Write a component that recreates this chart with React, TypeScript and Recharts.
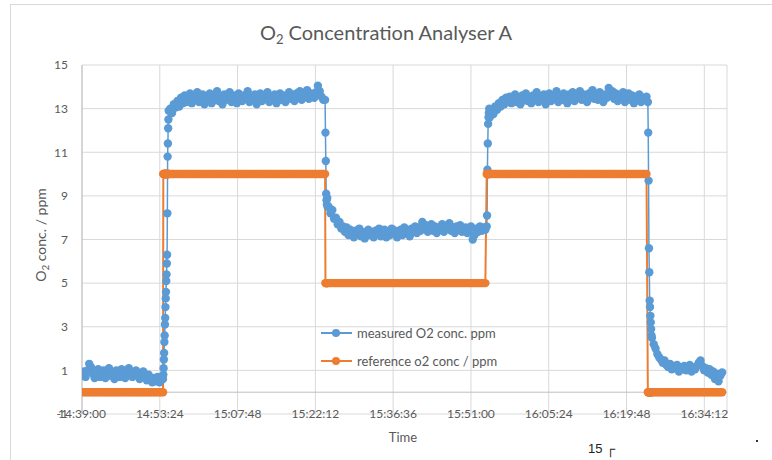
import { CartesianGrid, Legend, Line, LineChart, ReferenceLine, XAxis, YAxis } from "recharts";

const blue = "#5b9bd5";
const orange = "#ed7d31";
const grey = "#595959";
const font = "Lato, 'Open Sans', sans-serif";

// time axis
const timeTicks = ["14:39:00", "14:53:24", "15:07:48", "15:22:12", "15:36:36", "15:51:00", "16:05:24", "16:19:48", "16:34:12"];
const timeEnd = "16:38:24";
const concTicks = [-1, 1, 3, 5, 7, 9, 11, 13, 15];

// measured O2 (ppm), logged in runs: each run has a start time and seconds between samples
const baselineA = [
  0.75, 0.95, 0.7, 1.0, 1.3, 1.15, 0.85, 0.65, 0.9, 1.05,
  0.7, 0.8, 1.0, 0.65, 0.9, 1.1, 0.75, 0.85, 0.6, 1.0,
  0.9, 0.7, 1.05, 0.8, 0.65, 0.95, 1.1, 0.8, 0.7, 0.9,
  1.0, 0.75, 0.6, 0.85, 0.95, 0.7, 0.55, 0.8, 0.6, 0.45,
  0.65, 0.5, 0.7, 0.45, 0.55,
];
const riseA = [0.6, 0.8, 1.1, 1.5, 1.8, 2.3, 2.6, 3.1, 3.4, 3.9, 4.3, 4.6, 5.1, 5.4, 5.9, 6.3, 8.2, 10.8, 11.4, 12.1, 12.5, 12.9];
const highA = [
  13.0, 12.8, 13.2, 13.05, 13.35, 13.1, 13.5, 13.25, 13.6, 13.3,
  13.45, 13.7, 13.25, 13.55, 13.4, 13.75, 13.3, 13.5, 13.65, 13.2,
  13.55, 13.4, 13.7, 13.25, 13.6, 13.45, 13.8, 13.35, 13.5, 13.2,
  13.65, 13.4, 13.55, 13.75, 13.3, 13.5, 13.6, 13.25, 13.7, 13.45,
  13.35, 13.6, 13.5, 13.8, 13.3, 13.55, 13.4, 13.65, 13.2, 13.5,
  13.7, 13.35, 13.6, 13.45, 13.75, 13.3, 13.55, 13.4, 13.65, 13.25,
  13.5, 13.7, 13.4, 13.6, 13.3, 13.55, 13.75, 13.45, 13.6, 13.35,
  13.7, 13.5, 13.8, 13.4, 13.65, 13.55, 13.85, 13.45, 13.7, 13.6,
  13.5, 13.75, 14.05, 13.8, 13.55, 13.4,
];
const fallA = [13.4, 11.9, 10.6, 9.1, 8.8, 8.6, 8.9, 8.5];
const mid = [
  8.5, 8.2, 8.35, 7.95, 8.0, 7.7, 7.8, 7.5, 7.6, 7.35,
  7.55, 7.2, 7.45, 7.3, 7.1, 7.4, 7.25, 7.5, 7.15, 7.35,
  7.05, 7.3, 7.45, 7.2, 7.35, 7.1, 7.4, 7.25, 7.5, 7.15,
  7.3, 7.45, 7.1, 7.35, 7.2, 7.5, 7.25, 7.4, 7.1, 7.3,
  7.45, 7.2, 7.55, 7.3, 7.4, 7.15, 7.5, 7.35, 7.6, 7.3,
  7.55, 7.4, 7.8, 7.5, 7.65, 7.35, 7.55, 7.7, 7.4, 7.6,
  7.3, 7.55, 7.45, 7.7, 7.35, 7.6, 7.5, 7.75, 7.4, 7.55,
  7.3, 7.6, 7.45, 7.65, 7.35, 7.5, 7.55, 7.3, 7.45, 7.6,
  7.0, 7.2, 7.5, 7.35, 7.6, 7.4, 7.55, 7.45,
];
const riseB = [7.6, 8.1, 10.2, 11.4, 12.3, 12.6, 12.8, 13.0];
const highB = [
  12.6, 12.9, 12.75, 13.1, 12.95, 13.25, 13.1, 13.4, 13.2, 13.5,
  13.3, 13.55, 13.25, 13.45, 13.65, 13.3, 13.5, 13.2, 13.6, 13.4,
  13.7, 13.35, 13.5, 13.25, 13.6, 13.45, 13.75, 13.3, 13.55, 13.4,
  13.65, 13.2, 13.5, 13.7, 13.35, 13.6, 13.45, 13.8, 13.3, 13.55,
  13.4, 13.7, 13.5, 13.25, 13.65, 13.45, 13.75, 13.35, 13.6, 13.5,
  13.8, 13.4, 13.65, 13.55, 13.3, 13.7, 13.5, 13.85, 13.45, 13.6,
  13.4, 13.75, 13.55, 13.3, 13.65, 13.5, 13.95, 13.6, 13.8, 13.45,
  13.7, 13.35, 13.6, 13.5, 13.75, 13.3, 13.55, 13.7, 13.4, 13.6,
  13.25, 13.55, 13.45, 13.65, 13.3, 13.5, 13.4, 13.55,
];
const fallB = [13.3, 11.9, 9.7, 6.6, 5.5, 4.2, 3.9, 3.5, 3.2, 2.9, 2.6];
const baselineB = [
  2.5, 2.2, 2.0, 1.75, 1.6, 1.5, 1.35, 1.45, 1.25, 1.15,
  1.3, 1.05, 1.2, 1.1, 1.25, 0.95, 1.15, 1.05, 1.2, 1.0,
  1.1, 1.25, 0.95, 1.15, 1.05, 1.2, 1.35, 1.45, 1.2, 1.0,
  1.1, 0.9, 1.05, 0.8, 0.95, 0.6, 0.85, 0.5, 0.75, 0.9,
];

const runs = [
  { start: "14:39:00", step: 20, values: baselineA },
  { start: "14:54:00", step: 3, values: riseA },
  { start: "14:55:20", step: 20, values: highA },
  { start: "15:24:00", step: 4, values: fallA },
  { start: "15:24:40", step: 20, values: mid },
  { start: "15:53:55", step: 4, values: riseB },
  { start: "15:54:30", step: 20, values: highB },
  { start: "16:23:45", step: 4, values: fallB },
  { start: "16:24:30", step: 20, values: baselineB },
];

// reference O2 set point (ppm) and when it was switched
const refSwitchTimes = ["14:54:02", "15:24:01", "15:53:53", "16:23:44"];
const refLevels = [0, 10, 5, 10, 0];

const toSec = (s: string) => {
  const [h, m, sec] = s.split(":").map(Number);
  return h * 3600 + m * 60 + sec;
};
const pad = (n: number) => String(n).padStart(2, "0");
const fmtTime = (v: number) => `${pad(Math.floor(v / 3600))}:${pad(Math.floor((v % 3600) / 60))}:${pad(v % 60)}`;

const switchSecs = refSwitchTimes.map(toSec);
const rows = runs.flatMap((run) =>
  run.values.map((v, i) => {
    const t = toSec(run.start) + i * run.step;
    const phase = switchSecs.filter((s) => s <= t).length;
    return { t, measured: v, reference: refLevels[phase] };
  })
);

const XTick = (p: any) => (
  <text x={p.x} y={p.y + 4} textAnchor="middle" fill={grey} fontSize={12} fontFamily={font}>
    {fmtTime(p.payload.value)}
  </text>
);

function LegendBox({ payload }: any) {
  return (
    <div style={{ fontFamily: font, fontSize: 13, color: grey }}>
      {(payload || []).map((e: any) => (
        <div key={e.value} style={{ display: "flex", alignItems: "center", height: 28, whiteSpace: "nowrap" }}>
          <svg width={31} height={10} style={{ marginRight: 5 }}>
            <line x1={0} y1={5} x2={31} y2={5} stroke={e.color} strokeWidth={2} />
            <circle cx={15} cy={5} r={4} fill={e.color} />
          </svg>
          {e.value}
        </div>
      ))}
    </div>
  );
}

export default function App() {
  const dot = (c: string) => ({ r: 4.2, fill: c, stroke: c, strokeWidth: 0 });
  return (
    <div style={{ position: "absolute", left: 0, top: 0, width: 772, height: 460, background: "#fff", overflow: "hidden", fontFamily: font }}>
      <div style={{ position: "absolute", left: 10, top: 4, width: 770, height: 470, borderLeft: "1px solid #d9d9d9", borderTop: "1px solid #d9d9d9" }} />
      <LineChart width={772} height={460} data={rows} margin={{ top: 65, right: 45, bottom: 16, left: 0 }}>
        <CartesianGrid stroke="#d9d9d9" />
        <XAxis dataKey="t" type="number" domain={[toSec(timeTicks[0]), toSec(timeEnd)]} ticks={timeTicks.map(toSec)} interval={0} allowDataOverflow axisLine={false} tickLine={false} tickSize={0} tickMargin={0} height={30} tick={XTick} />
        <YAxis type="number" domain={[-1, 15]} ticks={concTicks} interval={0} width={82} axisLine={{ stroke: "#bfbfbf" }} tickLine={false} tickSize={0} tickMargin={14} tick={{ fill: grey, fontSize: 12, fontFamily: font }} />
        <ReferenceLine y={0} stroke="#bfbfbf" />
        <Legend layout="vertical" align="center" verticalAlign="middle" content={LegendBox} wrapperStyle={{ left: 321, top: 319, width: 200 }} />
        <Line dataKey="measured" name="measured O2 conc. ppm" type="linear" stroke={blue} strokeWidth={1.5} dot={dot(blue)} activeDot={false} isAnimationActive={false} />
        <Line dataKey="reference" name="reference o2 conc / ppm" type="linear" stroke={orange} strokeWidth={2} dot={dot(orange)} activeDot={false} isAnimationActive={false} />
      </LineChart>
      <div style={{ position: "absolute", left: 0, width: 772, top: 19, textAlign: "center", fontSize: 20, color: grey, lineHeight: "26px" }}>
        O<span style={{ fontSize: 13, position: "relative", top: 4 }}>2</span> Concentration Analyser A
      </div>
      <div style={{ position: "absolute", left: 40, top: 235, transform: "translate(-50%, -50%) rotate(-90deg)", fontSize: 14, color: grey, whiteSpace: "nowrap" }}>
        O<span style={{ fontSize: 10, position: "relative", top: 3 }}>2</span> conc. / ppm
      </div>
      <div style={{ position: "absolute", left: 403, top: 437, transform: "translate(-50%, -50%)", fontSize: 13, color: grey }}>Time</div>
      <div style={{ position: "absolute", left: 588, top: 441, fontSize: 13, color: "#222", fontFamily: "'Liberation Sans', sans-serif", whiteSpace: "nowrap" }}>15 ┌</div>
      <div style={{ position: "absolute", left: 756, top: 440, width: 2, height: 2, background: "#333" }} />
    </div>
  );
}
